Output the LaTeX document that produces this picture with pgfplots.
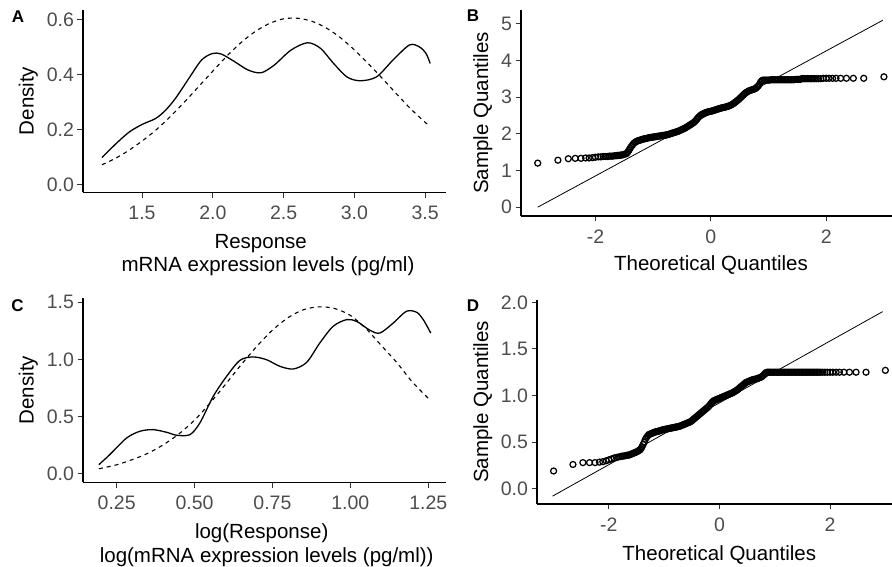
\documentclass[border=0pt]{standalone}
\usepackage{fontspec}
\setmainfont{Liberation Sans}
\usepackage{pgfplots}
\usepackage{pgfplotstable}
\pgfplotsset{compat=1.18}
\definecolor{tickgray}{HTML}{4D4D4D}
\definecolor{axgray}{HTML}{333333}

\pgfplotstableread{
x y
1.217 0.098
1.317 0.149
1.41 0.191
1.503 0.219
1.596 0.240
1.666 0.270
1.736 0.313
1.83 0.385
1.92 0.452
1.997 0.476
2.06 0.474
2.155 0.446
2.249 0.416
2.341 0.406
2.434 0.434
2.551 0.488
2.668 0.515
2.76 0.495
2.853 0.440
2.947 0.391
3.04 0.377
3.156 0.391
3.272 0.452
3.389 0.507
3.459 0.500
3.506 0.476
3.535 0.440
}\kdeA

\pgfplotstableread{
x y
1.217 0.072
1.3 0.092
1.4 0.122
1.5 0.158
1.6 0.199
1.7 0.247
1.8 0.300
1.9 0.356
2.0 0.412
2.1 0.467
2.2 0.516
2.3 0.556
2.4 0.585
2.5 0.602
2.6 0.604
2.7 0.593
2.8 0.569
2.9 0.534
3.0 0.489
3.1 0.438
3.2 0.384
3.3 0.328
3.4 0.274
3.5 0.226
3.535 0.212
}\normA

\pgfplotstableread{
x y
0.193 0.081
0.228 0.169
0.282 0.314
0.325 0.373
0.367 0.387
0.41 0.364
0.443 0.338
0.485 0.343
0.517 0.445
0.56 0.678
0.603 0.853
0.646 0.993
0.688 1.022
0.731 0.998
0.774 0.940
0.817 0.917
0.86 0.975
0.902 1.144
0.945 1.290
0.988 1.348
1.02 1.333
1.063 1.255
1.095 1.231
1.138 1.319
1.18 1.421
1.213 1.412
1.234 1.348
1.258 1.231
}\kdeC

\pgfplotstableread{
x y
0.193 0.045
0.25 0.080
0.30 0.125
0.35 0.180
0.40 0.255
0.45 0.350
0.50 0.470
0.55 0.620
0.60 0.785
0.65 0.955
0.70 1.115
0.75 1.256
0.80 1.365
0.85 1.435
0.90 1.460
0.95 1.445
1.00 1.385
1.05 1.270
1.10 1.120
1.15 0.970
1.20 0.800
1.258 0.640
}\normC

\pgfplotsset{
  panel/.style={
    scale only axis,
    axis x line*=bottom,
    axis y line*=left,
    axis line style={line width=1.1pt, black},
    tick align=outside,
    major tick length=5.5pt,
    tick style={line width=1pt, axgray},
    tick label style={font=\fontsize{19.5}{22}\selectfont, text=tickgray},
    xticklabel style={yshift=-5pt},
    /pgf/number format/assume math mode=true,
    clip=false,
  },
  kde/.style={black, line width=1.3pt, smooth},
  norm/.style={black, line width=1.1pt, smooth, dash pattern=on 4pt off 4pt},
  qq/.style={only marks, mark=o, mark size=3pt, mark options={line width=1.25pt, black}},
  qqline/.style={black, line width=0.8pt},
}

\newcommand{\tfont}{\fontsize{20.5}{24}\selectfont}
\newcommand{\pfont}{\fontsize{17}{20}\selectfont\bfseries}

\begin{document}
\begin{tikzpicture}
\useasboundingbox (0,0) rectangle (892pt,567pt);

% Panel A
\begin{axis}[panel, at={(83pt,374.7pt)}, anchor=south west,
  width=363pt, height=182.3pt,
  xmin=1.083, xmax=3.647, ymin=-0.028, ymax=0.634,
  xtick={1.5,2,2.5,3,3.5}, ytick={0,0.2,0.4,0.6},
  /pgf/number format/.cd, fixed, fixed zerofill, precision=1]
\addplot[norm] table[x=x,y=y] {\normA};
\addplot[kde] table[x=x,y=y] {\kdeA};
\end{axis}

% Panel B
\begin{axis}[panel, at={(521pt,351pt)}, anchor=south west,
  width=371pt, height=206pt,
  xmin=-3.29, xmax=3.14, ymin=-0.24, ymax=5.37,
  xtick={-2,0,2}, ytick={0,1,2,3,4,5}]
\addplot[qqline] coordinates {(-3.0,0.0) (2.98,5.09)};
\addplot[qq] coordinates {
(-3.00,1.20) (-2.65,1.28) (-2.47,1.32) (-2.35,1.33) (-2.25,1.33) (-2.17,1.34) (-2.11,1.34) (-2.05,1.35)
(-2.00,1.36) (-1.95,1.37) (-1.905,1.37) (-1.865,1.38) (-1.83,1.38) (-1.79,1.38) (-1.76,1.39) (-1.73,1.39)
(-1.70,1.39) (-1.67,1.40) (-1.64,1.40) (-1.62,1.41)
(-1.60,1.41) (-1.58,1.41) (-1.56,1.42) (-1.54,1.42) (-1.52,1.43) (-1.50,1.44) (-1.48,1.45) (-1.46,1.46)
(-1.44,1.50) (-1.42,1.55) (-1.40,1.60) (-1.38,1.65) (-1.36,1.69) (-1.34,1.73) (-1.32,1.76) (-1.30,1.78)
(-1.28,1.80) (-1.26,1.81) (-1.24,1.82) (-1.22,1.83) (-1.20,1.84) (-1.18,1.85) (-1.16,1.86) (-1.14,1.865)
(-1.12,1.87) (-1.10,1.88) (-1.08,1.89) (-1.06,1.895) (-1.04,1.90) (-1.02,1.905) (-1.00,1.91) (-0.98,1.915)
(-0.96,1.92) (-0.94,1.925) (-0.92,1.93) (-0.90,1.935) (-0.88,1.94) (-0.86,1.945) (-0.84,1.95) (-0.82,1.955)
(-0.80,1.96) (-0.78,1.965) (-0.76,1.97) (-0.74,1.98) (-0.72,1.99) (-0.70,2.00) (-0.68,2.01) (-0.66,2.02)
(-0.64,2.03) (-0.62,2.04) (-0.60,2.05) (-0.58,2.06) (-0.56,2.07) (-0.54,2.085) (-0.52,2.10) (-0.50,2.115)
(-0.48,2.13) (-0.46,2.145) (-0.44,2.16) (-0.42,2.18) (-0.40,2.20) (-0.38,2.22) (-0.36,2.24) (-0.34,2.26)
(-0.32,2.28) (-0.30,2.30) (-0.28,2.33) (-0.26,2.36) (-0.24,2.40) (-0.22,2.44) (-0.20,2.47) (-0.18,2.50)
(-0.16,2.52) (-0.14,2.54) (-0.12,2.55) (-0.10,2.57) (-0.08,2.58) (-0.06,2.59) (-0.04,2.60) (-0.02,2.605)
(0.00,2.61) (0.02,2.62) (0.04,2.63) (0.06,2.64) (0.08,2.65) (0.10,2.66) (0.12,2.67) (0.14,2.68)
(0.16,2.69) (0.18,2.70) (0.20,2.71) (0.22,2.715) (0.24,2.72) (0.26,2.73) (0.28,2.74) (0.30,2.75)
(0.32,2.76) (0.34,2.775) (0.36,2.79) (0.38,2.81) (0.40,2.83) (0.42,2.855) (0.44,2.88) (0.46,2.905)
(0.48,2.93) (0.50,2.96) (0.52,2.99) (0.54,3.02) (0.56,3.05) (0.58,3.08) (0.60,3.11) (0.62,3.13)
(0.64,3.15) (0.66,3.165) (0.68,3.18) (0.70,3.19) (0.72,3.20) (0.74,3.21) (0.76,3.22) (0.78,3.24)
(0.80,3.27) (0.82,3.30) (0.84,3.34) (0.86,3.40) (0.88,3.44) (0.90,3.46)
(0.925,3.46) (0.95,3.46) (0.975,3.46) (1.00,3.46) (1.025,3.465) (1.05,3.47) (1.075,3.47) (1.10,3.47)
(1.125,3.47) (1.15,3.47) (1.175,3.47) (1.20,3.47) (1.225,3.47) (1.25,3.47) (1.275,3.47) (1.30,3.47)
(1.325,3.47) (1.35,3.47) (1.375,3.47) (1.40,3.47) (1.425,3.47) (1.45,3.475) (1.475,3.48) (1.50,3.48)
(1.525,3.48) (1.55,3.48) (1.575,3.50) (1.60,3.50) (1.625,3.50) (1.65,3.50) (1.675,3.50) (1.70,3.50)
(1.725,3.50) (1.75,3.50) (1.775,3.50) (1.80,3.50) (1.83,3.50) (1.865,3.50) (1.905,3.50) (1.95,3.51)
(2.00,3.51) (2.05,3.51) (2.11,3.51) (2.17,3.51) (2.25,3.51) (2.35,3.51) (2.47,3.51) (2.65,3.51)
(3.00,3.55)
};
\end{axis}

% Panel C
\begin{axis}[panel, at={(83pt,84.7pt)}, anchor=south west,
  width=363pt, height=184.3pt,
  xmin=0.142, xmax=1.307, ymin=-0.073, ymax=1.537,
  xtick={0.25,0.5,0.75,1,1.25}, ytick={0,0.5,1,1.5},
  xticklabels={0.25,0.50,0.75,1.00,1.25},
  /pgf/number format/.cd, fixed, fixed zerofill, precision=1]
\addplot[norm] table[x=x,y=y] {\normC};
\addplot[kde] table[x=x,y=y] {\kdeC};
\end{axis}

% Panel D
\begin{axis}[panel, at={(537pt,63pt)}, anchor=south west,
  width=355pt, height=204pt,
  xmin=-3.3, xmax=3.12, ymin=-0.164, ymax=2.025,
  xtick={-2,0,2}, ytick={0,0.5,1,1.5,2},
  yticklabels={0.0,0.5,1.0,1.5,2.0}]
\addplot[qqline] coordinates {(-3.02,-0.08) (2.95,1.90)};
\addplot[qq] coordinates {
(-3.00,0.19) (-2.65,0.26) (-2.47,0.28) (-2.35,0.28) (-2.25,0.28) (-2.17,0.285) (-2.11,0.29) (-2.05,0.30)
(-2.00,0.31) (-1.95,0.32) (-1.905,0.33) (-1.865,0.335) (-1.83,0.34) (-1.79,0.345) (-1.76,0.35) (-1.73,0.35)
(-1.70,0.355) (-1.67,0.36) (-1.64,0.36) (-1.62,0.365)
(-1.60,0.37) (-1.58,0.375) (-1.56,0.38) (-1.54,0.385) (-1.52,0.39) (-1.50,0.395) (-1.48,0.40) (-1.46,0.41)
(-1.44,0.415) (-1.42,0.43) (-1.40,0.45) (-1.38,0.475) (-1.36,0.50) (-1.34,0.53) (-1.32,0.55) (-1.30,0.565)
(-1.28,0.58) (-1.26,0.585) (-1.24,0.59) (-1.22,0.595) (-1.20,0.60) (-1.18,0.605) (-1.16,0.61) (-1.14,0.612)
(-1.12,0.615) (-1.10,0.618) (-1.08,0.62) (-1.06,0.625) (-1.04,0.63) (-1.02,0.632) (-1.00,0.635) (-0.98,0.638)
(-0.96,0.64) (-0.94,0.642) (-0.92,0.645) (-0.90,0.648) (-0.88,0.65) (-0.86,0.652) (-0.84,0.655) (-0.82,0.658)
(-0.80,0.66) (-0.78,0.662) (-0.76,0.665) (-0.74,0.668) (-0.72,0.67) (-0.70,0.675) (-0.68,0.68) (-0.66,0.685)
(-0.64,0.69) (-0.62,0.695) (-0.60,0.70) (-0.58,0.705) (-0.56,0.71) (-0.54,0.715) (-0.52,0.72) (-0.50,0.73)
(-0.48,0.74) (-0.46,0.75) (-0.44,0.76) (-0.42,0.77) (-0.40,0.78) (-0.38,0.79) (-0.36,0.80) (-0.34,0.81)
(-0.32,0.82) (-0.30,0.83) (-0.28,0.84) (-0.26,0.85) (-0.24,0.86) (-0.22,0.87) (-0.20,0.88) (-0.18,0.895)
(-0.16,0.91) (-0.14,0.925) (-0.12,0.935) (-0.10,0.945) (-0.08,0.95) (-0.06,0.955) (-0.04,0.96) (-0.02,0.965)
(0.00,0.97) (0.02,0.975) (0.04,0.98) (0.06,0.985) (0.08,0.99) (0.10,0.995) (0.12,1.00) (0.14,1.005)
(0.16,1.01) (0.18,1.015) (0.20,1.02) (0.22,1.025) (0.24,1.03) (0.26,1.038) (0.28,1.045) (0.30,1.052)
(0.32,1.06) (0.34,1.07) (0.36,1.08) (0.38,1.09) (0.40,1.10) (0.42,1.11) (0.44,1.12) (0.46,1.13)
(0.48,1.14) (0.50,1.145) (0.52,1.15) (0.54,1.155) (0.56,1.16) (0.58,1.165) (0.60,1.17) (0.62,1.172)
(0.64,1.175) (0.66,1.178) (0.68,1.18) (0.70,1.185) (0.72,1.19) (0.74,1.195) (0.76,1.20) (0.78,1.21)
(0.80,1.22) (0.82,1.235) (0.84,1.245) (0.86,1.25) (0.88,1.25) (0.90,1.25)
(0.925,1.25) (0.95,1.25) (0.975,1.25) (1.00,1.25) (1.025,1.25) (1.05,1.25) (1.075,1.25) (1.10,1.25)
(1.125,1.25) (1.15,1.25) (1.175,1.25) (1.20,1.25) (1.225,1.25) (1.25,1.25) (1.275,1.25) (1.30,1.25)
(1.325,1.25) (1.35,1.25) (1.375,1.25) (1.40,1.25) (1.425,1.25) (1.45,1.25) (1.475,1.25) (1.50,1.25)
(1.525,1.25) (1.55,1.25) (1.575,1.25) (1.60,1.25) (1.625,1.25) (1.65,1.25) (1.675,1.25) (1.70,1.25)
(1.725,1.25) (1.75,1.25) (1.775,1.25) (1.80,1.25) (1.83,1.25) (1.865,1.25) (1.905,1.25) (1.95,1.25)
(2.00,1.25) (2.05,1.25) (2.11,1.25) (2.17,1.25) (2.25,1.25) (2.35,1.25) (2.47,1.25) (2.65,1.25)
(3.00,1.27)
};
\end{axis}

% axis titles
\node[font=\tfont, anchor=base] at (260.7pt,318.7pt) {Response};
\node[font=\tfont, anchor=base] at (268pt,295.3pt) {mRNA expression levels (pg/ml)};
\node[font=\tfont, anchor=base, rotate=90] at (33.5pt,466pt) {Density};
\node[font=\tfont, anchor=base] at (711pt,296pt) {Theoretical Quantiles};
\node[font=\tfont, anchor=base, rotate=90] at (488pt,454pt) {Sample Quantiles};

\node[font=\tfont, anchor=base] at (261.7pt,28pt) {log(Response)};
\node[font=\tfont, anchor=base] at (266.7pt,4.8pt) {log(mRNA expression levels (pg/ml))};
\node[font=\tfont, anchor=base, rotate=90] at (33.5pt,176.8pt) {Density};
\node[font=\tfont, anchor=base] at (719.3pt,6.7pt) {Theoretical Quantiles};
\node[font=\tfont, anchor=base, rotate=90] at (488pt,165pt) {Sample Quantiles};

% panel tags
\node[font=\pfont] at (18pt,550pt) {A};
\node[font=\pfont] at (473pt,551pt) {B};
\node[font=\pfont] at (17.5pt,261pt) {C};
\node[font=\pfont] at (473pt,261.5pt) {D};
\end{tikzpicture}
\end{document}
